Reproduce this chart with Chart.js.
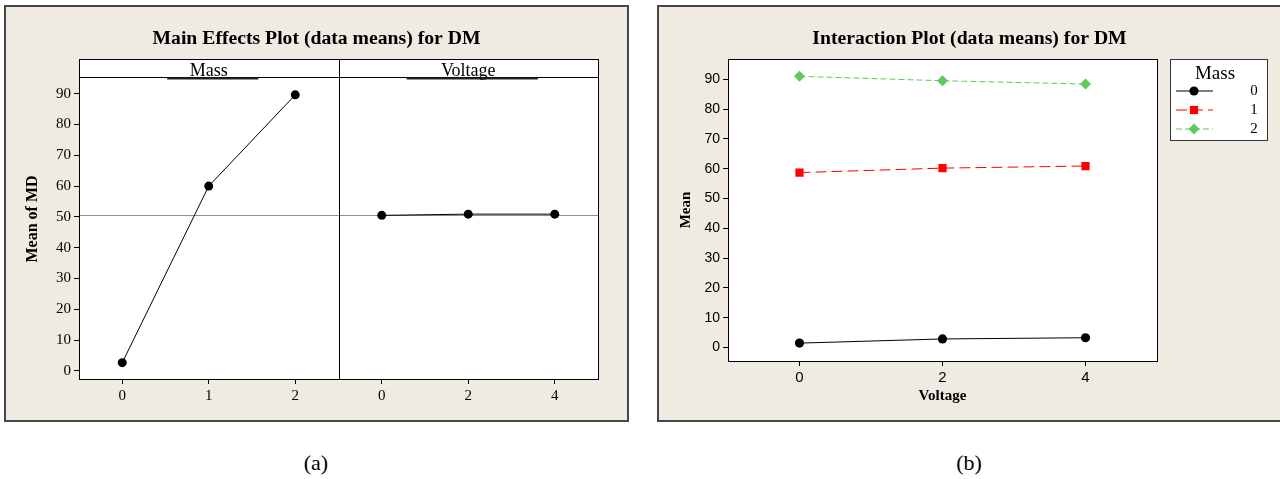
<!DOCTYPE html>
<html>
<head>
<meta charset="utf-8">
<script src="https://cdn.jsdelivr.net/npm/chart.js@4.4.1/dist/chart.umd.min.js"></script>
<style>
  html, body { margin: 0; padding: 0; background: #fff; width: 1280px; height: 479px; overflow: hidden; }
  canvas { position: absolute; }
  #mainCanvas  { left: 4px;   top: 5px; }
  #interCanvas { left: 657px; top: 5px; }
  .cap { position: absolute; top: 452px; width: 100px; text-align: center;
         font: 22px/22px "Liberation Serif", "Times New Roman", serif; color: #000; }
</style>
</head>
<body>
<canvas id="mainCanvas" width="625" height="417"></canvas>
<canvas id="interCanvas" width="625" height="417"></canvas>
<div class="cap" style="left:266px">(a)</div>
<div class="cap" style="left:919px">(b)</div>

<script>
// ---------- data ----------
const massLevels    = ["0", "1", "2"];
const voltageLevels = ["0", "2", "4"];

// main effects: mean of DM at each factor level
const massMeans    = [2.7, 60.0, 89.6];
const voltageMeans = [50.5, 50.9, 50.9];

// interaction: mean at each voltage, one line per mass level
const mass0Means = [1.5, 2.9, 3.3];
const mass1Means = [58.7, 60.2, 60.9];
const mass2Means = [91.0, 89.5, 88.4];

const yTicks = [0, 10, 20, 30, 40, 50, 60, 70, 80, 90];

const grandMean = massMeans.reduce((s, v) => s + v, 0) / massMeans.length;

// ---------- shared look ----------
const SERIF  = '"Liberation Serif", "Times New Roman", serif';
const SANS   = '"Liberation Sans", Arial, sans-serif';
const NARROW = '"Liberation Sans Narrow", "Arial Narrow", "Liberation Sans", sans-serif';
const PANEL_BG = "#efebe2";

// ---------- Helper: beige panel, frame, title and white plot box ----------
const panelFrame = {
  id: "panelFrame",
  beforeDraw(chart, args, opts) {
    const { ctx, width, height, chartArea: a } = chart;
    const top = a.top - (opts.strip || 0);
    ctx.save();
    ctx.fillStyle = PANEL_BG;
    ctx.fillRect(0, 0, width, height);
    ctx.strokeStyle = "#474747";
    ctx.lineWidth = 2;
    ctx.strokeRect(1, 1, width - 2, height - 2);
    ctx.fillStyle = "#fff";
    ctx.fillRect(a.left, top, a.right - a.left, a.bottom - top);
    // panel title, centred on the frame
    ctx.fillStyle = "#000";
    ctx.font = "bold 19.7px " + SERIF;
    ctx.textAlign = "center";
    ctx.textBaseline = "alphabetic";
    ctx.fillText(opts.title, width / 2, 39);
    // optional y title centred on the whole plot box
    if (opts.yTitle) {
      ctx.save();
      ctx.translate(29, (top + a.bottom) / 2);
      ctx.rotate(-Math.PI / 2);
      ctx.font = "bold 16px " + SERIF;
      ctx.textBaseline = "middle";
      ctx.fillText(opts.yTitle, 0, 0);
      ctx.restore();
    }
    ctx.restore();
  },
  afterDraw(chart, args, opts) {
    const { ctx, chartArea: a } = chart;
    const top = Math.round(a.top - (opts.strip || 0));
    ctx.save();
    ctx.strokeStyle = "#000";
    ctx.lineWidth = 1;
    ctx.strokeRect(Math.round(a.left) + 0.5, top + 0.5,
                   Math.round(a.right - a.left), Math.round(a.bottom) - top);
    ctx.restore();
  }
};

// ---------- Helper: grand mean reference line ----------
const refLine = {
  id: "refLine",
  beforeDatasetsDraw(chart, args, opts) {
    const { ctx, chartArea: a, scales: { y } } = chart;
    const py = Math.round(y.getPixelForValue(opts.value)) + 0.5;
    ctx.save();
    ctx.strokeStyle = "#8c8c8c";
    ctx.lineWidth = 1;
    ctx.beginPath();
    ctx.moveTo(a.left, py);
    ctx.lineTo(a.right, py);
    ctx.stroke();
    ctx.restore();
  }
};

// ---------- Helper: factor strips + panel divider ----------
const strips = {
  id: "strips",
  afterDraw(chart, args, opts) {
    const { ctx, chartArea: a, scales: { x } } = chart;
    const top = a.top - opts.height;
    ctx.save();
    ctx.strokeStyle = "#000";
    ctx.lineWidth = 1;
    ctx.beginPath();
    ctx.moveTo(a.left, Math.round(a.top) + 0.5);
    ctx.lineTo(a.right, Math.round(a.top) + 0.5);
    ctx.stroke();
    opts.groups.forEach((g, i) => {
      const cx = (x.getPixelForValue(g.from) + x.getPixelForValue(g.to)) / 2;
      ctx.font = "18px " + SERIF;
      ctx.fillStyle = "#000";
      ctx.textAlign = "center";
      ctx.textBaseline = "alphabetic";
      ctx.fillText(g.label, cx, a.top - 1);
      // the odd dark bar under each strip label
      const tw = ctx.measureText(g.label).width * 2.4;
      ctx.strokeStyle = "#222";
      ctx.lineWidth = 2;
      ctx.beginPath();
      ctx.moveTo(cx + 4 - tw / 2, Math.round(a.top) + 1.5);
      ctx.lineTo(cx + 4 + tw / 2, Math.round(a.top) + 1.5);
      ctx.stroke();
      if (i > 0) {
        const px = Math.round((x.getPixelForValue(g.from - 1) + x.getPixelForValue(g.from)) / 2) + 0.5;
        ctx.strokeStyle = "#000";
        ctx.lineWidth = 1;
        ctx.beginPath();
        ctx.moveTo(px, top);
        ctx.lineTo(px, a.bottom);
        ctx.stroke();
      }
    });
    ctx.restore();
  }
};

// ---------- Helper: boxed legend to the right ----------
const boxLegend = {
  id: "boxLegend",
  afterDraw(chart, args, opts) {
    const { ctx, chartArea: a } = chart;
    const left = Math.round(a.right) + 13, top = Math.round(a.top);
    const w = 97, h = 81;
    ctx.save();
    ctx.fillStyle = "#fff";
    ctx.fillRect(left, top, w, h);
    ctx.strokeStyle = "#333";
    ctx.lineWidth = 1;
    ctx.strokeRect(left + 0.5, top + 0.5, w, h);
    ctx.fillStyle = "#000";
    ctx.textAlign = "center";
    ctx.textBaseline = "middle";
    ctx.font = "19px " + SERIF;
    ctx.fillText(opts.title, left + 45, top + 15);
    chart.data.datasets.forEach((ds, i) => {
      const ry = top + 32 + i * 19;
      ctx.strokeStyle = ds.borderColor;
      ctx.lineWidth = 1;
      ctx.setLineDash(ds.borderDash || []);
      ctx.beginPath();
      ctx.moveTo(left + 6, ry);
      ctx.lineTo(left + 43, ry);
      ctx.stroke();
      ctx.setLineDash([]);
      ctx.fillStyle = ds.pointBackgroundColor;
      Chart.helpers.drawPoint(ctx, {
        pointStyle: ds.pointStyle, radius: ds.pointRadius, rotation: 0, borderWidth: 0
      }, left + 24, ry);
      ctx.fillStyle = "#000";
      ctx.font = "15px " + SERIF;
      ctx.fillText(ds.label, left + 84, ry);
    });
    ctx.restore();
  }
};

function yAxis(min, max, width, tickFont, title) {
  return {
    min, max,
    afterBuildTicks: (s) => { s.ticks = yTicks.map((v) => ({ value: v })); },
    afterFit: (s) => { s.width = width; },
    grid: { drawOnChartArea: false, tickLength: 5, color: "#000" },
    border: { color: "#000" },
    ticks: { color: "#000", padding: 3, font: tickFont },
    title: title || { display: false }
  };
}

// ---------- (a) Main effects plot ----------
new Chart(document.getElementById("mainCanvas"), {
  type: "line",
  data: {
    labels: massLevels.concat(voltageLevels),
    datasets: [
      {
        label: "Mass",
        data: massMeans.concat(voltageLevels.map(() => null)),
        borderColor: "#000", borderWidth: 1,
        pointRadius: 4.5, pointBackgroundColor: "#000", pointBorderWidth: 0,
        spanGaps: false
      },
      {
        label: "Voltage",
        data: massLevels.map(() => null).concat(voltageMeans),
        borderColor: "#000", borderWidth: 1,
        pointRadius: 4.5, pointBackgroundColor: "#000", pointBorderWidth: 0,
        spanGaps: false
      }
    ]
  },
  options: {
    responsive: false,
    animation: false,
    events: [],
    layout: { padding: { left: 0, right: 31, top: 72, bottom: 0 } },
    plugins: {
      legend: { display: false },
      tooltip: { enabled: false },
      panelFrame: { strip: 18, title: "Main Effects Plot (data means) for DM", yTitle: "Mean of MD" },
      refLine: { value: grandMean },
      strips: {
        height: 18,
        groups: [
          { label: "Mass", from: 0, to: massLevels.length - 1 },
          { label: "Voltage", from: massLevels.length, to: massLevels.length + voltageLevels.length - 1 }
        ]
      }
    },
    scales: {
      x: {
        type: "category", offset: true,
        afterFit: (s) => { s.height = 43; },
        grid: { drawOnChartArea: false, tickLength: 5, color: "#000", offset: false },
        border: { color: "#000" },
        ticks: { color: "#000", padding: 3, maxRotation: 0, font: { family: SERIF, size: 15 } }
      },
      y: yAxis(-2.6, 95.4, 75, { family: SERIF, size: 15 })
    }
  },
  plugins: [panelFrame, refLine, strips]
});

// ---------- (b) Interaction plot ----------
new Chart(document.getElementById("interCanvas"), {
  type: "line",
  data: {
    labels: voltageLevels,
    datasets: [
      {
        label: massLevels[0], data: mass0Means,
        borderColor: "#000", borderWidth: 1,
        pointStyle: "circle", pointRadius: 4.6,
        pointBackgroundColor: "#000", pointBorderWidth: 0
      },
      {
        label: massLevels[1], data: mass1Means,
        borderColor: "#ff0000", borderWidth: 1, borderDash: [11, 5],
        pointStyle: "rect", pointRadius: 5.8,
        pointBackgroundColor: "#ff0000", pointBorderWidth: 0
      },
      {
        label: massLevels[2], data: mass2Means,
        borderColor: "#5fc95f", borderWidth: 1, borderDash: [6, 3],
        pointStyle: "rectRot", pointRadius: 5.5,
        pointBackgroundColor: "#5fc95f", pointBorderWidth: 0
      }
    ]
  },
  options: {
    responsive: false,
    animation: false,
    events: [],
    layout: { padding: { left: 0, right: 125, top: 54, bottom: 0 } },
    plugins: {
      legend: { display: false },
      tooltip: { enabled: false },
      panelFrame: { strip: 0, title: "Interaction Plot (data means) for DM" },
      boxLegend: { title: "Mass" }
    },
    scales: {
      x: {
        type: "category", offset: true,
        afterFit: (s) => { s.height = 61; },
        grid: { drawOnChartArea: false, tickLength: 5, color: "#000", offset: false },
        border: { color: "#000" },
        ticks: { color: "#000", padding: 3, maxRotation: 0, font: { family: NARROW, size: 15 } },
        title: {
          display: true, text: "Voltage", color: "#000",
          font: { family: SERIF, size: 15, weight: "bold" },
          padding: { top: 0, bottom: 17 }
        }
      },
      y: yAxis(-4.5, 96.8, 71, { family: SANS, size: 14 }, {
        display: true, text: "Mean", color: "#000",
        font: { family: SERIF, size: 15, weight: "bold" },
        padding: { top: 20, bottom: 0 }
      })
    }
  },
  plugins: [panelFrame, boxLegend]
});
</script>
</body>
</html>
